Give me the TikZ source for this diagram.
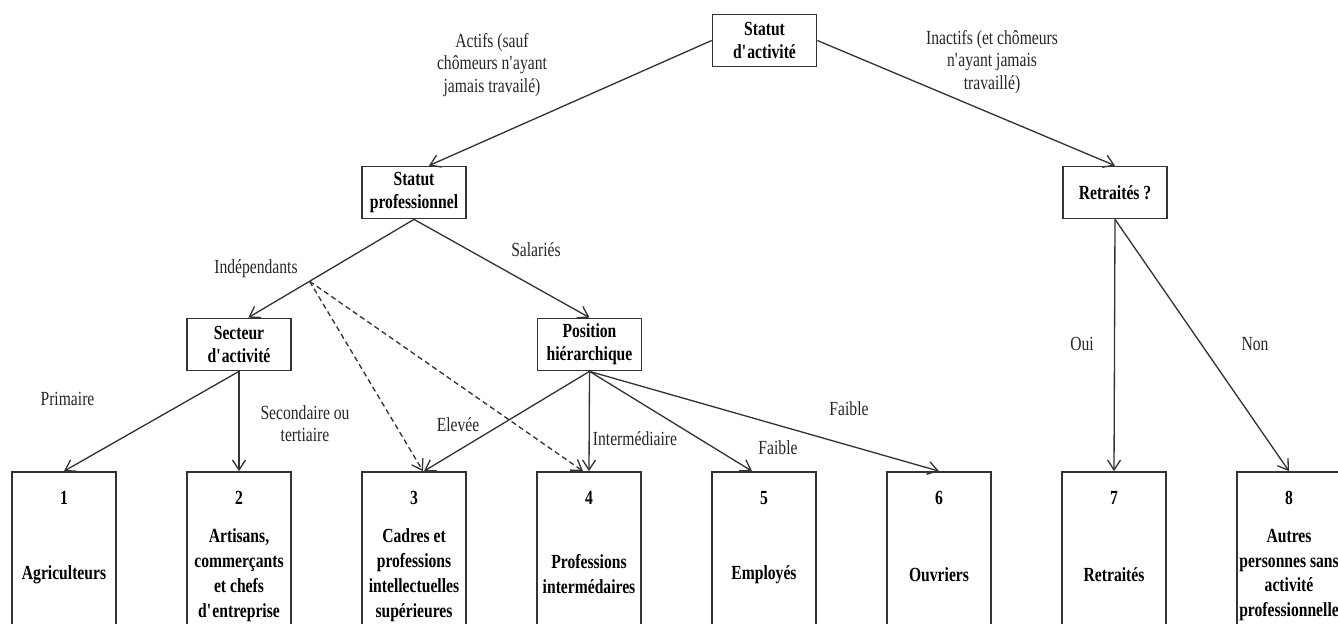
\documentclass[tikz,border=0pt]{standalone}
\usepackage{fontspec}
\setmainfont[FakeStretch=0.78]{Liberation Serif}
\usepackage{tikz}
\usetikzlibrary{arrows.meta}

\tikzset{
  qbox/.style={shape=rectangle,draw=black!80,line width=1pt,minimum width=2.08cm,minimum height=1.04cm,inner sep=1pt,align=center,font=\bfseries\fontsize{11.4}{13.2}\selectfont},
  catbox/.style={shape=rectangle,draw=black!80,line width=1pt,minimum width=2.08cm,minimum height=3.8cm},
  cattext/.style={align=center,inner sep=0pt,font=\bfseries\fontsize{11.4}{14.2}\selectfont},
  lbl/.style={align=center,inner sep=0pt,text=black!85,font=\fontsize{11.4}{12.6}\selectfont},
  arr/.style={-{Straight Barb[length=2mm,width=2.6mm]},draw=black!80,line width=0.75pt},
  dasharr/.style={arr,dash pattern=on 3pt off 2pt}
}

\begin{document}
\begin{tikzpicture}[x=0.02cm,y=-0.02cm]
    \useasboundingbox (0,0) rectangle (1338,623);
    \clip (0,0) rectangle (1338,623);

    \node[qbox] (act) at (764.5,40.5) {Statut\\d\textquotesingle activité};
    \node[qbox] (sp) at (414,192.5) {Statut\\professionnel};
    \node[qbox] (ret) at (1115,192.5) {Retraités ?};
    \node[qbox] (sa) at (239,344.5) {Secteur\\d\textquotesingle activité};
    \node[qbox] (ph) at (589.5,344.5) {Position\\hiérarchique};

    \node[catbox] (b1) at (64,567) {};
    \node[catbox] (b2) at (239,567) {};
    \node[catbox] (b3) at (414,567) {};
    \node[catbox] (b4) at (589,567) {};
    \node[catbox] (b5) at (764,567) {};
    \node[catbox] (b6) at (939,567) {};
    \node[catbox] (b7) at (1114,567) {};
    \node[catbox] (b8) at (1289,567) {};

    \node[cattext] (n1) at (64,498) {1};
    \node[cattext] (n2) at (239,498) {2};
    \node[cattext] (n3) at (414,498) {3};
    \node[cattext] (n4) at (589,498) {4};
    \node[cattext] (n5) at (764,498) {5};
    \node[cattext] (n6) at (939,498) {6};
    \node[cattext] (n7) at (1114,498) {7};
    \node[cattext] (n8) at (1289,498) {8};

    \node[cattext] (t1) at (64,575) {Agriculteurs};
    \node[cattext] (t2) at (239,575) {Artisans,\\commerçants\\et chefs\\d\textquotesingle entreprise};
    \node[cattext] (t3) at (414,575) {Cadres et\\professions\\intellectuelles\\supérieures};
    \node[cattext] (t4) at (589,574) {Professions\\intermédaires};
    \node[cattext] (t5) at (764,575) {Employés};
    \node[cattext] (t6) at (939,575) {Ouvriers};
    \node[cattext] (t7) at (1114,575) {Retraités};
    \node[cattext] (t8) at (1289,575) {Autres\\personnes sans\\activité\\professionnelle};

    % branch labels
    \node[lbl] (lact) at (492,65) {Actifs (sauf\\chômeurs n\textquotesingle ayant\\jamais travailé)};
    \node[lbl] (linact) at (992,62) {Inactifs (et chômeurs\\n\textquotesingle ayant jamais\\travaillé)};
    \node[lbl] (lind) at (256,269) {Indépendants};
    \node[lbl] (lsal) at (536,250) {Salariés};
    \node[lbl] (lprim) at (67.5,399) {Primaire};
    \node[lbl] (lsec) at (305,424) {Secondaire ou\\tertiaire};
    \node[lbl] (lelev) at (458,425) {Elevée};
    \node[lbl] (linter) at (635,439) {Intermédiaire};
    \node[lbl] (lfaib5) at (778,448) {Faible};
    \node[lbl] (lfaib6) at (849,409) {Faible};
    \node[lbl] (loui) at (1082,344) {Oui};
    \node[lbl] (lnon) at (1255,344) {Non};

    \draw [arr] (act.west) -- (sp.61);
    \draw [arr] (act.east) -- (ret.north);
    \draw [arr] (sp.south) -- coordinate[pos=0.63] (ind) (sa.71);
    \draw [arr] (sp.south) -- (ph.north);
    \draw [dasharr] (ind) -- ([xshift=0.18cm]b3.north);
    \draw [dasharr] (ind) -- ([xshift=-0.12cm]b4.north);
    \draw [arr] (sa.south) -- (b1.north);
    \draw [arr] (sa.south) -- (b2.north);
    \draw [arr] (ph.south) -- ([xshift=0.2cm]b3.north);
    \draw [arr] (ph.south) -- (b4.north);
    \draw [arr] (ph.south) -- ([xshift=-0.24cm]b5.north);
    \draw [arr] (ph.south) -- (b6.north);
    \draw [arr] (ret.south) -- (b7.north);
    \draw [arr] (ret.south) -- (b8.north);
\end{tikzpicture}
\end{document}
